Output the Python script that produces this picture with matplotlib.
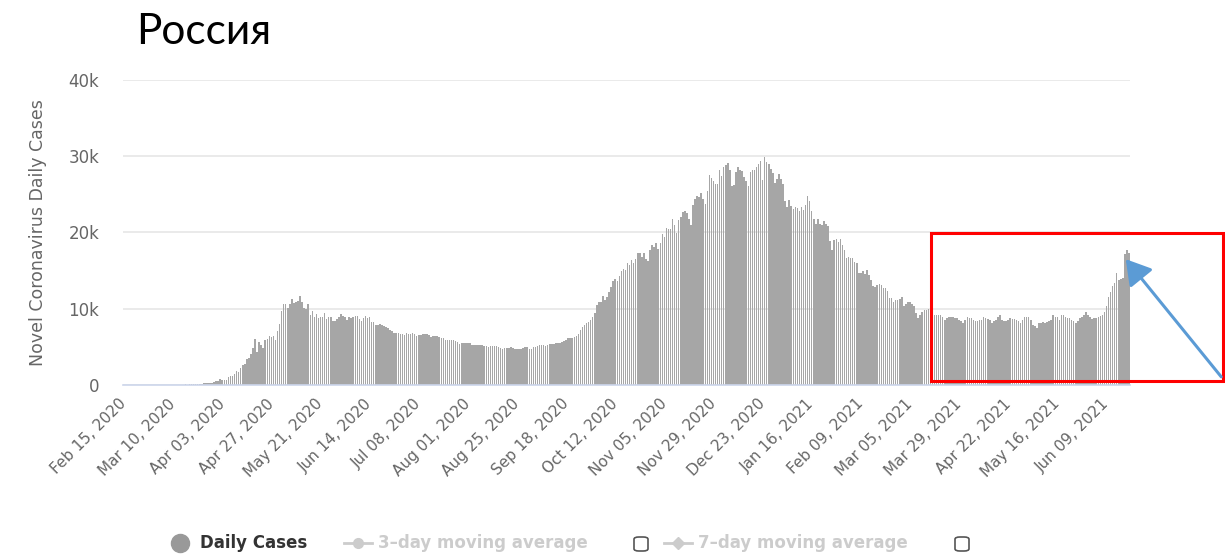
import matplotlib
matplotlib.use("Agg")
import matplotlib.pyplot as plt
import numpy as np
from matplotlib.patches import Rectangle, FancyBboxPatch, FancyArrowPatch
from matplotlib.lines import Line2D

# ---------------- data (daily new cases, Feb 15 2020 .. Jun 20 2021) ----------------
feb2020 = [0] * 15
mar2020 = [0, 1, 0, 0, 1, 6, 0, 3, 0, 3, 8, 6, 11, 14, 4, 30, 21, 33, 52, 54, 53, 61, 71, 57,
           163, 182, 196, 228, 270, 302, 501]
apr2020 = [440, 771, 601, 582, 658, 954, 1154, 1175, 1459, 1786, 1667, 2186, 2558, 2774, 3388,
           3448, 4070, 4785, 6060, 4268, 5642, 5236, 4774, 5849, 5966, 6361, 6198, 6411, 5841, 7099]
may2020 = [7933, 9623, 10633, 10581, 10102, 10559, 11231, 10699, 10817, 11012, 11656, 10899,
           10028, 9974, 10598, 9200, 9709, 8926, 9263, 8764, 8849, 8894, 9434, 8599, 8946, 8915,
           8338, 8371, 8572, 8952, 9268]
jun2020 = [9035, 8863, 8536, 8831, 8726, 8855, 8984, 8985, 8595, 8404, 8779, 8987, 8706, 8835,
           8246, 8248, 7843, 7790, 7972, 7889, 7728, 7600, 7425, 7176, 7113, 6800, 6852, 6791,
           6719, 6693]
jul2020 = [6556, 6760, 6718, 6632, 6736, 6611, 6368, 6562, 6509, 6635, 6611, 6615, 6537, 6248,
           6422, 6428, 6406, 6234, 6109, 6170, 5842, 5862, 5848, 5811, 5871, 5765, 5635, 5395,
           5475, 5509, 5482]
aug2020 = [5462, 5427, 5159, 5204, 5241, 5267, 5212, 5189, 5118, 5102, 4945, 5102, 5065, 5061,
           5076, 4969, 4839, 4748, 4828, 4785, 4870, 4921, 4852, 4687, 4676, 4696, 4711, 4829,
           4980, 4897, 4729]
sep2020 = [4729, 4952, 4995, 5110, 5195, 5205, 5185, 5099, 5172, 5363, 5310, 5406, 5449, 5509,
           5529, 5670, 5762, 5905, 6065, 6148, 6196, 6215, 6431, 6595, 7212, 7523, 7867, 8135,
           8232, 8481]
oct2020 = [8945, 9412, 10499, 10888, 10888, 11615, 11115, 11493, 12126, 12846, 13634, 13868,
           13592, 14231, 14926, 15150, 15099, 15982, 15700, 16319, 15971, 16521, 17340, 17347,
           16710, 17347, 16550, 16202, 17717, 18283, 18140]
nov2020 = [18665, 17775, 18648, 19768, 19404, 20582, 20498, 20396, 21798, 20977, 19851, 21608,
           21983, 22702, 22778, 22572, 21798, 20985, 23610, 24318, 24822, 24581, 25173, 24326,
           23675, 25487, 27543, 27100, 26683, 26338]
dec2020 = [26402, 28145, 27403, 28585, 28782, 29039, 28137, 26097, 26190, 27927, 28585, 28137,
           28080, 27328, 26689, 26097, 27921, 28214, 28209, 28552, 28948, 29350, 26900, 29935,
           29258, 29018, 28284, 27787, 26513, 27039, 27600]
jan2021 = [27029, 26301, 24150, 23351, 24246, 23399, 23108, 23350, 23200, 22851, 23315, 22934,
           23541, 24715, 24092, 22857, 21734, 21152, 21734, 21127, 20921, 21513, 21100, 20800,
           18800, 17741, 19032, 19120, 18700, 19138, 18359]
feb2021 = [17648, 16643, 16714, 16688, 16627, 16048, 15916, 14600, 14600, 14928, 14494, 15038,
           14445, 13800, 12900, 12828, 13100, 13233, 13100, 12700, 12742, 12300, 11400, 11359,
           10900, 11100, 11129, 11300]
mar2021 = [11571, 10300, 10535, 10900, 10800, 10595, 10300, 9400, 8700, 9100, 9600, 9803, 9800,
           9900, 9900, 9600, 9100, 9200, 9200, 9200, 8900, 8500, 8700, 8850, 8900, 8850, 8800,
           8700, 8500, 8300, 8100]
apr2021 = [8500, 8900, 8800, 8700, 8500, 8300, 8300, 8500, 8500, 8900, 8700, 8600, 8500, 8100,
           8300, 8500, 8900, 9100, 8500, 8400, 8300, 8500, 8700, 8600, 8600, 8500, 8300, 8100,
           8500, 8900]
may2021 = [8900, 8900, 8500, 7850, 7700, 7500, 8100, 8100, 8200, 8100, 8200, 8300, 8500, 9100,
           8900, 8900, 8500, 9200, 9100, 8900, 8700, 8700, 8500, 8300, 8100, 8400, 8700, 8900,
           9100, 9500, 9100]
jun2021 = [8900, 8600, 8700, 8800, 8900, 9000, 9100, 9500, 10300, 11500, 12200, 12900, 13400,
           14600, 13800, 13900, 14000, 17100, 17700, 17300]

daily_cases = (feb2020 + mar2020 + apr2020 + may2020 + jun2020 + jul2020 + aug2020 + sep2020 +
               oct2020 + nov2020 + dec2020 + jan2021 + feb2021 + mar2021 + apr2021 + may2021 +
               jun2021)

tick_labels = ["Feb 15, 2020", "Mar 10, 2020", "Apr 03, 2020", "Apr 27, 2020", "May 21, 2020",
               "Jun 14, 2020", "Jul 08, 2020", "Aug 01, 2020", "Aug 25, 2020", "Sep 18, 2020",
               "Oct 12, 2020", "Nov 05, 2020", "Nov 29, 2020", "Dec 23, 2020", "Jan 16, 2021",
               "Feb 09, 2021", "Mar 05, 2021", "Mar 29, 2021", "Apr 22, 2021", "May 16, 2021",
               "Jun 09, 2021"]
tick_step_days = 24

y_ticks = [0, 10000, 20000, 30000, 40000]
y_tick_labels = ["0", "10k", "20k", "30k", "40k"]

title = "Россия"
y_label = "Novel Coronavirus Daily Cases"
legend_items = ["Daily Cases", "3\u2013day moving average", "7\u2013day moving average"]

# ---------------- figure ----------------
W, H = 1225, 556
fig = plt.figure(figsize=(W / 100, H / 100), dpi=100)

def fx(px):
    return px / W

def fy(py):
    return 1 - py / H

ax_left, ax_right, ax_top, ax_bottom = 123, 1130, 80, 384.7
ax_w = ax_right - ax_left
ax = fig.add_axes([fx(ax_left), fy(ax_bottom), fx(ax_w), (ax_bottom - ax_top) / H])

x = np.arange(len(daily_cases))
ax.bar(x, daily_cases, width=0.75, color="#a6a6a6", edgecolor="none", zorder=3)

ax.set_xlim(-0.5, len(daily_cases) - 0.5)
ax.set_ylim(0, 40000)

ax.set_yticks(y_ticks)
ax.set_yticklabels(y_tick_labels)
ax.yaxis.grid(True, color="#e6e6e6", linewidth=1.2, zorder=0)
ax.set_axisbelow(True)

xt = np.arange(len(tick_labels)) * tick_step_days
ax.set_xticks(xt)
ax.set_xticklabels(tick_labels, rotation=45, ha="right", va="center", rotation_mode="anchor")

ax.tick_params(axis="x", length=0, labelsize=11, labelcolor="#666666", pad=12)
ax.tick_params(axis="y", length=0, labelsize=12, labelcolor="#666666", pad=17)

for s in ["top", "right", "left"]:
    ax.spines[s].set_visible(False)
ax.spines["bottom"].set_color("#ccd6eb")
ax.spines["bottom"].set_linewidth(1.2)
ax.spines["bottom"].set_zorder(4)

ax.set_ylabel(y_label, fontsize=12.5, color="#666666", labelpad=0)
ax.yaxis.set_label_coords((47 - ax_left) / ax_w, 0.5)

# title
fig.text(fx(136), fy(44), title, fontsize=30.5, family=["Lato", "DejaVu Sans"],
         ha="left", va="baseline", color="black")

# ---------------- legend (drawn manually) ----------------
ly = fy(543)
fig.add_artist(Line2D([fx(180)], [ly], marker="o", markersize=13, color="#999999",
                      transform=fig.transFigure))
fig.text(fx(200), ly, legend_items[0], fontsize=12, fontweight="bold", color="#333333",
         ha="left", va="center")

fig.add_artist(Line2D([fx(344), fx(372)], [ly, ly], color="#cccccc", lw=2,
                      transform=fig.transFigure))
fig.add_artist(Line2D([fx(358)], [ly], marker="o", markersize=7, color="#cccccc",
                      transform=fig.transFigure))
fig.text(fx(378), ly, legend_items[1], fontsize=12, fontweight="bold", color="#cccccc",
         ha="left", va="center")

fig.add_artist(Line2D([fx(664), fx(692)], [ly, ly], color="#cccccc", lw=2,
                      transform=fig.transFigure))
fig.add_artist(Line2D([fx(678)], [ly], marker="D", markersize=6, color="#cccccc",
                      transform=fig.transFigure))
fig.text(fx(698), ly, legend_items[2], fontsize=12, fontweight="bold", color="#cccccc",
         ha="left", va="center")

for cx in (641, 962):
    box = FancyBboxPatch((fx(cx - 7), fy(551)), fx(14), 14 / H,
                         boxstyle="round,pad=0,rounding_size=0.004",
                         transform=fig.transFigure, facecolor="white",
                         edgecolor="#555555", linewidth=1.2)
    fig.add_artist(box)

# ---------------- annotations (red box + blue arrow) ----------------
rect = Rectangle((fx(931), fy(381)), fx(1223 - 931), (381 - 233) / H,
                 transform=fig.transFigure, fill=False, edgecolor="#ff0000", linewidth=2.2)
fig.add_artist(rect)
arrow = FancyArrowPatch((fx(1223), fy(379)), (fx(1124), fy(257)),
                        transform=fig.transFigure, arrowstyle="-|>,head_length=10,head_width=6",
                        color="#5b9bd5", linewidth=2.2, mutation_scale=1.5)
fig.add_artist(arrow)

fig.savefig("out.png", dpi=100)
